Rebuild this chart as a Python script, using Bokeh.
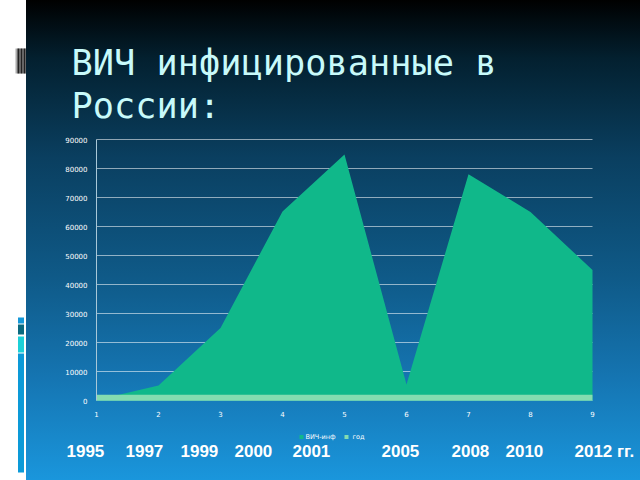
from bokeh.plotting import figure
from bokeh.models import Range1d, FixedTicker, NumeralTickFormatter, Label, BoxAnnotation
from bokeh.embed import file_html
from bokeh.resources import INLINE

# data
points = [1, 2, 3, 4, 5, 6, 7, 8, 9]
infected = [200, 5200, 25000, 65200, 84800, 5500, 78000, 65000, 45000]
years = [1995, 1997, 1999, 2000, 2001, 2005, 2008, 2010, 2012]
y_ticks = [0, 10000, 20000, 30000, 40000, 50000, 60000, 70000, 80000, 90000]
zeros = [0] * len(points)
series_names = ["ВИЧ-инф", "год"]
title_lines = ["ВИЧ инфицированные в", "России:"]
year_labels = ["1995", "1997", "1999", "2000", "2001", "2005", "2008", "2010", "2012 гг."]

GREEN = "#10b88a"
LIGHT = "#84dcb0"
W, H = 640, 480

# the frame fills the whole figure; the plot area is 96..592 by 139..400 in it
PX_X = 62.0       # pixels per x step
PX_Y = 29 / 10000 # pixels per unit of y
x_range = Range1d(1 - 96 / PX_X, 1 + (W - 96) / PX_X)
y_range = Range1d(-(H - 400) / PX_Y, 400 / PX_Y)

def sy(v):
    return H - v

gradient = ("linear-gradient(to right, #ffffff 26px, transparent 26px), "
            "linear-gradient(to bottom, #000000 0px, #03202f 58px, #0a3f60 158px, "
            "#0f5a88 278px, #1575b2 378px, #1a96dc 480px)")

p = figure(width=W, height=H, output_backend="svg", toolbar_location=None,
           x_range=x_range, y_range=y_range, min_border=0,
           background_fill_alpha=0, border_fill_alpha=0, outline_line_color=None)
p.styles = {"background": gradient}

# gridlines limited to the plot area
p.grid.visible = False
p.segment(x0=[points[0]] * len(y_ticks), x1=[points[-1]] * len(y_ticks), y0=y_ticks, y1=y_ticks,
          line_color="#ffffff", line_alpha=0.55, line_width=1)

# areas
p.varea(points, y1=zeros, y2=infected, fill_color=GREEN)
p.varea(points, y1=zeros, y2=years, fill_color=LIGHT)

# axes
p.xaxis.ticker = FixedTicker(ticks=points)
p.yaxis.ticker = FixedTicker(ticks=y_ticks)
p.yaxis.formatter = NumeralTickFormatter(format="0")
p.xaxis.fixed_location = 0
p.yaxis.fixed_location = 1
p.yaxis.bounds = (0, 90000)
for ax in (p.xaxis[0], p.yaxis[0]):
    ax.major_tick_line_color = None
    ax.minor_tick_line_color = None
    ax.major_label_text_color = "#ffffff"
    ax.major_label_text_font = "DejaVu Sans"
    ax.major_label_text_font_size = "7px"
p.xaxis.axis_line_color = None
p.yaxis.axis_line_color = "#a9c8d8"
p.xaxis.major_label_standoff = 4
p.yaxis.major_label_standoff = 3

def box(l, r, t, b, c):
    p.add_layout(BoxAnnotation(left=l, right=r, top=sy(t), bottom=sy(b),
                               left_units="screen", right_units="screen",
                               top_units="screen", bottom_units="screen",
                               fill_color=c, fill_alpha=1, line_color=None, level="overlay"))

def text(s, x, y, color, font, size, style="normal"):
    p.add_layout(Label(x=x, y=sy(y), x_units="screen", y_units="screen", text=s,
                       text_color=color, text_font=font, text_font_size=size,
                       text_font_style=style, text_baseline="middle"))

# legend, drawn by hand below the axis
for name, color, swatch_x, text_x in zip(series_names, [GREEN, LIGHT], [299, 344], [305, 352]):
    box(swatch_x, swatch_x + 4, 434.5, 438.5, color)
    text(name, text_x, 436, "#ffffff", "DejaVu Sans", "6.5px")

# title
for line, center in zip(title_lines, [62, 105]):
    text(line, 71, center, "#c8fafa", "DejaVu Sans Mono", "35.3px")

# years row
for lab, left, center in zip(year_labels, [66, 125, 180, 234, 292, 381, 451, 505, 574],
                             [450] * 8 + [451]):
    text(lab, left, center, "#ffffff", "Liberation Sans", "17px", "bold")

# side decoration
bars = [(17.5, 23.5, 317, 323, "#1598d8"), (17.5, 23.5, 324, 334, "#0a6a80"),
        (17.5, 23.5, 336, 352, "#1cd0d8"), (17.5, 23.5, 353, 472, "#0c9ad8"),
        (15, 25.5, 48, 73, "#aaaaaa"), (17, 19, 48, 73, "#222222"),
        (20, 22, 48, 73, "#222222"), (23, 25, 48, 73, "#222222")]
for l, r, t, b, c in bars:
    box(l, r, t, b, c)

open("out.html", "w").write(file_html(p, INLINE))
